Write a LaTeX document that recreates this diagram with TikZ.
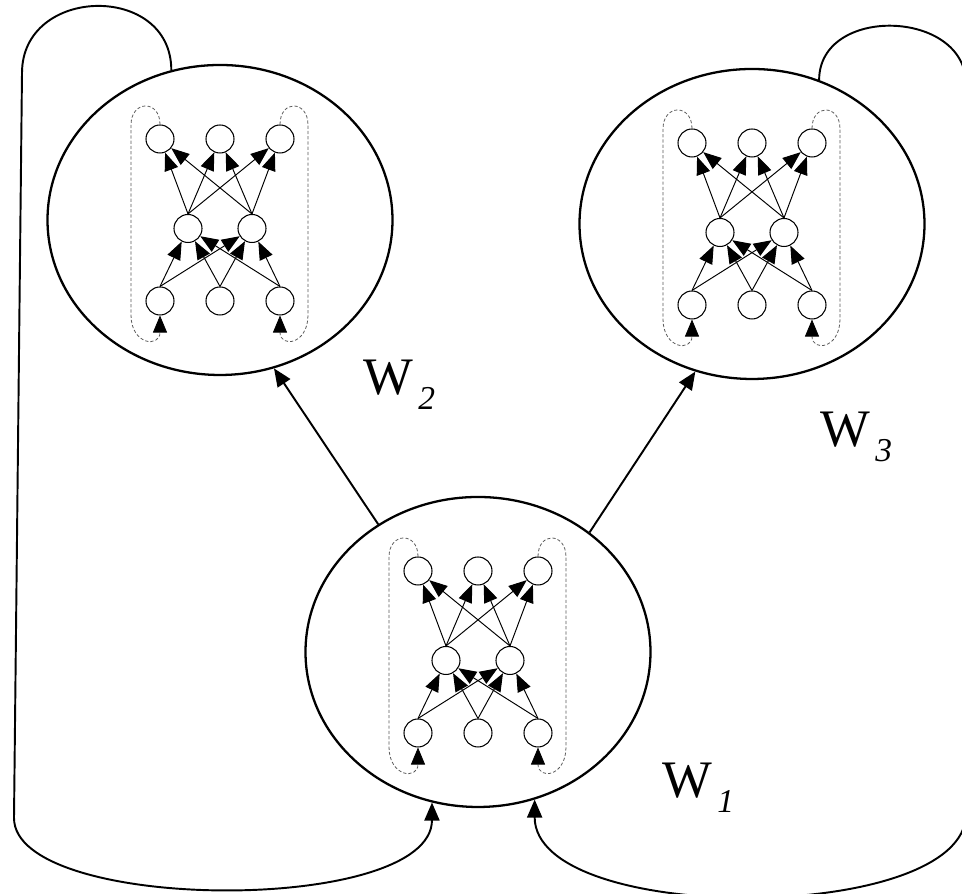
\documentclass[tikz,border=0pt]{standalone}
\usepackage{fontspec}
\setmainfont{Liberation Serif}
\newfontfamily\labfont{Liberation Serif}
\usetikzlibrary{shapes.geometric,arrows.meta}

\tikzset{
  cell/.style={draw,ellipse,line width=1.3pt,minimum width=6.9cm,minimum height=6.2cm},
  unit/.style={draw,circle,line width=0.6pt,minimum size=0.56cm,inner sep=0pt},
  link/.style={line width=0.55pt,-{Triangle[length=0.36cm,width=0.28cm]}},
  recur/.style={black!65,line width=0.45pt,dash pattern=on 1.8pt off 1.2pt,
    -{Triangle[length=0.34cm,width=0.28cm,color=black]}},
  flow/.style={line width=1.1pt,-{Triangle[length=0.36cm,width=0.3cm]}},
  wlab/.style={anchor=base west,inner sep=0pt,font=\labfont\fontsize{30}{36}\selectfont}
}

% label W with an italic index
\newcommand{\wname}[1]{W\kern3pt\raisebox{-8pt}{\fontsize{19}{20}\selectfont\itshape #1}}

% small recurrent net drawn inside a cell
\newcommand{\subnet}[1]{%
  \begin{scope}[shift={(#1.center)}]
    \node[unit] (#1o1) at (-1.2,1.62) {};
    \node[unit] (#1o2) at (0,1.62) {};
    \node[unit] (#1o3) at (1.2,1.62) {};
    \node[unit] (#1h1) at (-0.64,-0.17) {};
    \node[unit] (#1h2) at (0.64,-0.17) {};
    \node[unit] (#1i1) at (-1.2,-1.62) {};
    \node[unit] (#1i2) at (0,-1.62) {};
    \node[unit] (#1i3) at (1.2,-1.62) {};
    \foreach \a in {1,2,3}
      \foreach \b in {1,2}
        \draw[link] (#1i\a.north) -- (#1h\b);
    \foreach \a in {1,2}
      \foreach \b in {1,2,3}
        \draw[link] (#1h\a.north) -- (#1o\b);
    % outer outputs fed back to the inputs
    \draw[recur] (#1o1.north) .. controls +(0,0.5) and +(0,0.5) .. (-1.78,1.9)
      -- (-1.78,-1.9) .. controls +(0,-0.6) and +(0,-0.65) .. (#1i1.south);
    \draw[recur] (#1o3.north) .. controls +(0,0.5) and +(0,0.5) .. (1.76,1.9)
      -- (1.76,-1.9) .. controls +(0,-0.6) and +(0,-0.65) .. (#1i3.south);
  \end{scope}}

\begin{document}
\begin{tikzpicture}
  \useasboundingbox (0,0) rectangle (19.24,17.88);
  \clip (0,0) rectangle (19.24,17.88);

  \node[cell] (E2) at (4.40,13.48) {};
  \node[cell] (E3) at (15.04,13.40) {};
  \node[cell] (E1) at (9.56,4.84) {};
  \subnet{E1}
  \subnet{E2}
  \subnet{E3}

  \draw[flow] (E1.128) -- (E2.-70);
  \draw[flow] (E1.47) -- (E3.-111);

  % outer loops back into the lower cell
  \draw[flow] (E2.108) .. controls +(0,1.75) and +(0,1.75) .. (0.44,16.42)
    -- (0.28,1.52) .. controls +(0,-1.9) and +(0,-2.26) .. (E1.-107);
  \draw[flow] (E3.65) .. controls +(0,1.5) and +(0,1.5) .. (19.32,16.2)
    -- (19.32,1.6) .. controls +(0,-2.21) and +(0,-2.53) .. (E1.-69);

  \node[wlab] (lab2) at (7.26,9.98) {\wname{2}};
  \node[wlab] (lab3) at (16.40,8.94) {\wname{3}};
  \node[wlab] (lab1) at (13.24,1.92) {\wname{1}};
\end{tikzpicture}
\end{document}
